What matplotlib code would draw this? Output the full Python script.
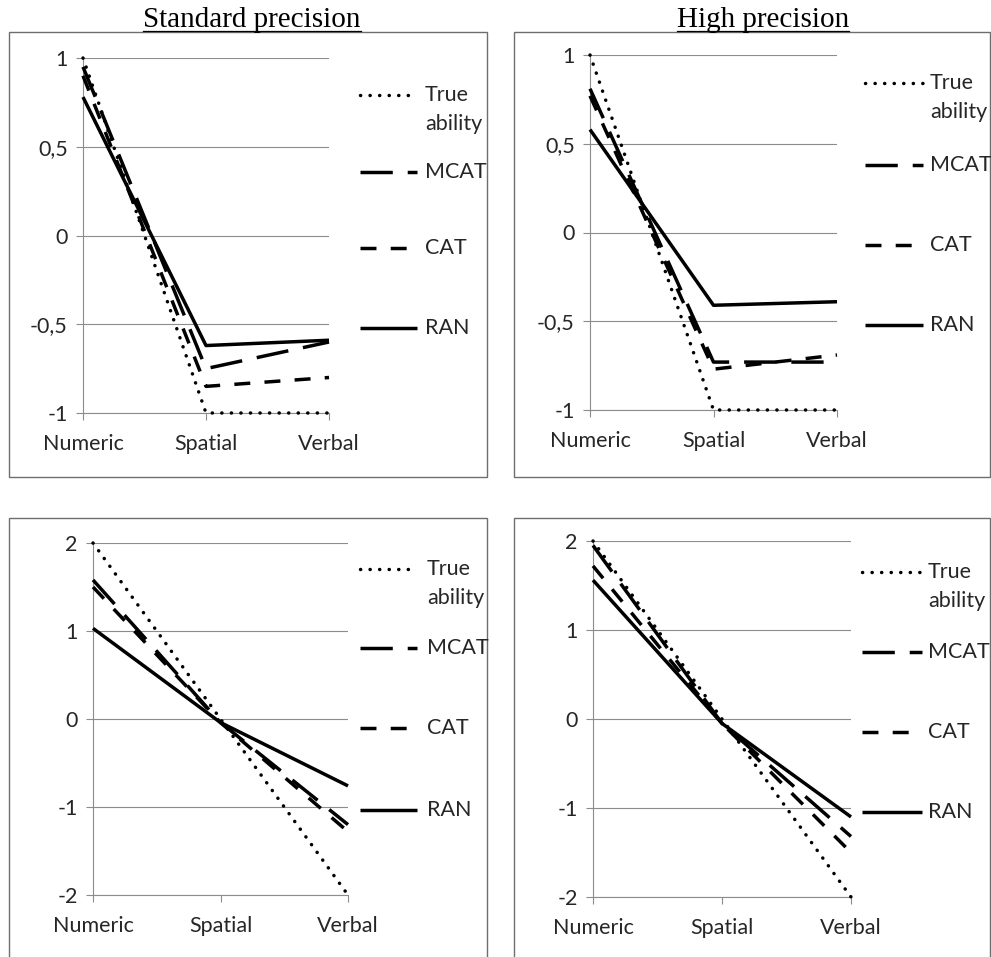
import matplotlib
matplotlib.use("Agg")
import matplotlib.pyplot as plt
from matplotlib.lines import Line2D
from matplotlib.patches import Rectangle

# ---------------- data ----------------
categories = ["Numeric", "Spatial", "Verbal"]
series_names = ["True\nability", "MCAT", "CAT", "RAN"]

# top-left: standard precision, scenario 1
std1_true = [1.0, -1.0, -1.0]
std1_mcat = [0.95, -0.75, -0.60]
std1_cat = [0.90, -0.85, -0.80]
std1_ran = [0.78, -0.62, -0.59]

# top-right: high precision, scenario 1
high1_true = [1.0, -1.0, -1.0]
high1_mcat = [0.81, -0.73, -0.73]
high1_cat = [0.77, -0.77, -0.69]
high1_ran = [0.58, -0.41, -0.39]

# bottom-left: standard precision, scenario 2
std2_true = [2.0, 0.0, -2.0]
std2_mcat = [1.58, -0.04, -1.20]
std2_cat = [1.50, -0.04, -1.28]
std2_ran = [1.03, -0.04, -0.76]

# bottom-right: high precision, scenario 2
high2_true = [2.0, 0.0, -2.0]
high2_mcat = [1.95, -0.05, -1.32]
high2_cat = [1.72, -0.05, -1.50]
high2_ran = [1.56, -0.05, -1.10]

yticks_top = [-1, -0.5, 0, 0.5, 1]
yticklabels_top = ["-1", "-0,5", "0", "0,5", "1"]
yticks_bottom = [-2, -1, 0, 1, 2]
yticklabels_bottom = ["-2", "-1", "0", "1", "2"]

titles = ["Standard precision", "High precision"]

# ---------------- layout ----------------
W, H = 991, 957
fig = plt.figure(figsize=(W / 100, H / 100), dpi=100)
fig.patch.set_facecolor("white")

def fx(x):
    return x / W

def fy(y):
    return 1 - y / H

FONT = ["Lato", "DejaVu Sans"]
SERIF = ["Liberation Serif", "DejaVu Serif"]
GRID = "#8c8c8c"
FRAME = "#6e6e6e"
TXT = "#262626"
FS = 15.5
LW = 2.5
styles = [
    dict(linestyle=(0, (0.05, 2.7)), dash_capstyle="round"),
    dict(linestyle=(0, (9.3, 4.3)), dash_capstyle="butt"),
    dict(linestyle=(0, (4.6, 4.1)), dash_capstyle="butt"),
    dict(linestyle="-", solid_capstyle="butt"),
]

panels = [
    dict(frame=(9, 32, 487, 477), ax=(83, 329, 58, 413), ylim=(-1, 1),
         yt=yticks_top, ytl=yticklabels_top,
         data=[std1_true, std1_mcat, std1_cat, std1_ran],
         leg=(360, 417, 425, [95, 172, 248, 328])),
    dict(frame=(514, 32, 990, 477), ax=(590, 837, 55, 410), ylim=(-1, 1),
         yt=yticks_top, ytl=yticklabels_top,
         data=[high1_true, high1_mcat, high1_cat, high1_ran],
         leg=(865, 923, 930, [83, 165, 245, 325])),
    dict(frame=(9, 518, 487, 975), ax=(93, 348, 543, 895), ylim=(-2, 2),
         yt=yticks_bottom, ytl=yticklabels_bottom,
         data=[std2_true, std2_mcat, std2_cat, std2_ran],
         leg=(360, 417, 427, [569, 648, 728, 810])),
    dict(frame=(514, 518, 990, 975), ax=(593, 851, 541, 897), ylim=(-2, 2),
         yt=yticks_bottom, ytl=yticklabels_bottom,
         data=[high2_true, high2_mcat, high2_cat, high2_ran],
         leg=(862, 922, 928, [572, 652, 732, 812])),
]

for p in panels:
    x0, y0, x1, y1 = p["frame"]
    fig.add_artist(Rectangle((fx(x0), fy(y1)), (x1 - x0) / W, (y1 - y0) / H,
                             transform=fig.transFigure, fill=False,
                             edgecolor=FRAME, linewidth=1.0))
    ax0, ax1, ay0, ay1 = p["ax"]
    ax = fig.add_axes([fx(ax0), fy(ay1), (ax1 - ax0) / W, (ay1 - ay0) / H])
    ax.set_facecolor("none")
    ax.set_xlim(0, 2)
    ax.set_ylim(*p["ylim"])
    ax.set_xticks(range(len(categories)))
    ax.set_xticklabels(categories, fontfamily=FONT, fontsize=FS, color=TXT)
    ax.set_yticks(p["yt"])
    ax.set_yticklabels(p["ytl"], fontfamily=FONT, fontsize=FS, color=TXT)
    ax.grid(axis="y", color=GRID, linewidth=0.8)
    ax.set_axisbelow(True)
    for s in ["top", "right"]:
        ax.spines[s].set_visible(False)
    for s in ["left", "bottom"]:
        ax.spines[s].set_color(GRID)
        ax.spines[s].set_linewidth(0.8)
    ax.tick_params(axis="y", color=GRID, length=5, width=0.8, pad=6)
    ax.tick_params(axis="x", color=GRID, length=5, width=0.8, pad=10)
    for vals, st in zip(p["data"], styles):
        ax.plot(range(len(categories)), vals, color="black", linewidth=LW,
                clip_on=False, zorder=3, **st)
    # legend
    lx0, lx1, tx, ys = p["leg"]
    for name, st, yy in zip(series_names, styles, ys):
        fig.add_artist(Line2D([fx(lx0), fx(lx1)], [fy(yy), fy(yy)],
                              transform=fig.transFigure, color="black",
                              linewidth=LW, **st))
        if "\n" in name:
            fig.text(fx(tx), fy(yy - 10), name, ha="left", va="top",
                     fontfamily=FONT, fontsize=FS, color=TXT, linespacing=1.55)
        else:
            fig.text(fx(tx), fy(yy), name, ha="left", va="center",
                     fontfamily=FONT, fontsize=FS, color=TXT)

# titles with underline
title_objs = []
for t, cx in zip(titles, [252, 763]):
    title_objs.append(fig.text(fx(cx), fy(27), t, ha="center", va="baseline",
                               fontfamily=SERIF, fontsize=21, color="black"))
fig.canvas.draw()
r = fig.canvas.get_renderer()
for tobj in title_objs:
    bb = tobj.get_window_extent(renderer=r)
    fig.add_artist(Line2D([bb.x0 / W, bb.x1 / W], [fy(30.5), fy(30.5)],
                          transform=fig.transFigure, color="black", linewidth=0.9))

fig.savefig("out.png", dpi=100)
